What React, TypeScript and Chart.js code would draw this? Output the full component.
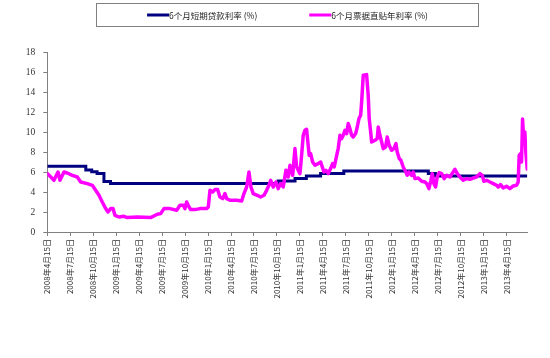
import React, { useEffect, useRef } from "react";
import { Chart, registerables } from "chart.js";

Chart.register(...registerables);

// x values are months since 2008-04-15
const tickMonths = [0, 3, 6, 9, 12, 15, 18, 21, 24, 27, 30, 33, 36, 39, 42, 45, 48, 51, 54, 57, 60];
const tickLabels = [
  "2008年4月15日", "2008年7月15日", "2008年10月15日",
  "2009年1月15日", "2009年4月15日", "2009年7月15日", "2009年10月15日",
  "2010年1月15日", "2010年4月15日", "2010年7月15日", "2010年10月15日",
  "2011年1月15日", "2011年4月15日", "2011年7月15日", "2011年10月15日",
  "2012年1月15日", "2012年4月15日", "2012年7月15日", "2012年10月15日",
  "2013年1月15日", "2013年4月15日",
];
const xMax = 62.7;

const seriesNames = ["6个月短期贷款利率 (%)", "6个月票据直贴年利率 (%)"];

const loanMonths = [0, 5.03, 5.8, 6.5, 7.4, 8.26, 30.16, 32.36, 33.84, 35.7, 38.73, 49.77, 50.7, 62.7];
const loanRates = [6.57, 6.21, 6.03, 5.85, 5.04, 4.86, 5.1, 5.35, 5.6, 5.85, 6.1, 5.85, 5.6, 5.6];

const billMonths = [
  0, 0.65, 0.87, 1.4, 1.66, 2.18, 2.61, 3.27, 3.92, 4.36, 5.22, 5.88, 6.32, 6.75, 7.18, 7.63, 7.93, 8.28, 8.58, 8.84,
  9.36, 10.02, 10.45, 11.75, 13.5, 14.37, 14.81, 15.24, 16.02, 16.9, 17.33, 17.76, 17.98, 18.2, 18.41, 18.73, 19.29,
  19.94, 20.82, 21.03, 21.25, 21.6, 21.9, 22.25, 22.55, 22.91, 23.21, 23.43, 23.86, 24.74, 25.39, 25.69, 26.04, 26.34,
  26.6, 26.9, 27.43, 27.87, 28.3, 28.65, 28.95, 29.18, 29.52, 29.87, 30.17, 30.48, 30.82, 31.17, 31.47, 31.7, 32.05,
  32.35, 32.57, 32.78, 33.0, 33.22, 33.43, 33.65, 33.87, 34.08, 34.21, 34.4, 34.66, 34.96, 35.39, 35.71, 35.92, 36.14,
  36.4, 36.7, 37.01, 37.27, 37.48, 37.8, 38.0, 38.23, 38.45, 38.66, 38.88, 39.1, 39.31, 39.53, 39.75, 39.96, 40.28,
  40.49, 40.71, 40.93, 41.06, 41.27, 41.71, 41.92, 42.05, 42.24, 42.37, 42.8, 43.1, 43.23, 43.45, 43.67, 43.88, 44.19,
  44.4, 44.66, 44.97, 45.28, 45.54, 45.71, 45.97, 46.19, 46.49, 46.72, 47.02, 47.24, 47.59, 47.8, 48.02, 48.45, 48.9,
  49.33, 49.55, 49.85, 50.11, 50.28, 50.5, 50.72, 50.93, 51.19, 51.51, 51.85, 52.16, 52.59, 52.89, 53.25, 53.55, 53.9,
  54.33, 54.77, 55.2, 55.64, 56.08, 56.51, 56.81, 57.03, 57.39, 57.82, 58.25, 58.69, 58.9, 59.21, 59.55, 59.99, 60.42,
  60.86, 61.3, 61.51, 61.64, 61.82, 61.95, 62.08, 62.25, 62.38, 62.51, 62.69,
];
const billRates = [
  5.84, 5.34, 5.17, 6.0, 5.17, 6.0, 5.9, 5.67, 5.5, 5.0, 4.84, 4.67, 4.17, 3.67, 3.0, 2.34, 2.0, 2.34, 2.34, 1.67,
  1.5, 1.57, 1.44, 1.5, 1.44, 1.77, 1.84, 2.34, 2.34, 2.17, 2.67, 2.67, 2.34, 3.0, 2.67, 2.24, 2.24,
  2.34, 2.34, 2.5, 4.17, 4.0, 4.24, 4.24, 3.5, 3.34, 3.84, 3.34, 3.17, 3.17, 3.1, 3.84, 4.5, 6.0,
  4.5, 3.84, 3.67, 3.5, 3.67, 4.17, 4.67, 5.17, 4.5, 5.0, 4.34, 4.84, 4.5, 6.17, 5.5, 6.67, 5.67,
  8.34, 6.5, 6.17, 5.84, 7.67, 9.67, 10.17, 10.27, 8.67, 7.67, 7.84, 7.0, 6.67, 6.84, 7.0, 6.5, 6.0,
  6.17, 5.84, 6.34, 6.84, 6.5, 7.67, 8.34, 9.67, 9.34, 9.67, 10.17, 9.84, 10.84, 10.34, 9.67, 9.5, 9.84,
  10.5, 11.34, 11.67, 13.0, 15.67, 15.74, 13.67, 11.34, 10.0, 9.0, 9.17, 9.34, 10.5, 9.67, 9.0, 8.34, 8.5,
  9.5, 8.67, 8.17, 8.34, 8.84, 8.0, 7.34, 7.17, 6.5, 6.17, 5.67, 6.0, 5.67, 6.0, 5.34, 5.4, 5.07,
  5.0, 4.84, 4.34, 5.17, 5.84, 4.84, 4.5, 5.5, 5.94, 5.84, 5.34, 5.67, 5.5, 5.84, 6.27, 5.84, 5.5,
  5.17, 5.34, 5.27, 5.4, 5.5, 5.84, 5.67, 5.07, 5.17, 5.0, 4.84, 4.67, 4.5, 4.74, 4.4, 4.57, 4.34,
  4.6, 4.67, 5.0, 7.67, 7.84, 7.0, 11.3, 9.0, 10.0, 8.0, 6.3,
];

const loanColor = "#000080";
const billColor = "#FF00FF";

const legendPlugin = {
  id: "excelLegend",
  afterDraw(chart: any) {
    const ctx = chart.ctx;
    const box = { x: 96.5, y: 3.5, w: 382, h: 23 };
    ctx.save();
    ctx.strokeStyle = "#808080";
    ctx.lineWidth = 1;
    ctx.strokeRect(box.x, box.y, box.w, box.h);
    ctx.font = '8.5px "Noto Sans CJK SC"';
    ctx.textBaseline = "middle";
    const sample = 22;
    const gap = 52;
    const colors = [loanColor, billColor];
    const widths = seriesNames.map((n) => sample + ctx.measureText(n).width);
    const total = widths[0] + widths[1] + gap;
    let x = box.x + (box.w - total) / 2;
    const cy = box.y + box.h / 2;
    seriesNames.forEach((name, i) => {
      ctx.strokeStyle = colors[i];
      ctx.lineWidth = 3;
      ctx.beginPath();
      ctx.moveTo(x, cy);
      ctx.lineTo(x + sample, cy);
      ctx.stroke();
      ctx.fillStyle = "#222";
      ctx.fillText(name, x + sample, cy + 0.5);
      x += widths[i] + gap;
    });
    ctx.restore();
  },
};

export default function App() {
  const ref = useRef<HTMLCanvasElement | null>(null);
  useEffect(() => {
    if (!ref.current) return;
    const chart = new Chart(ref.current, {
      type: "line",
      data: {
        datasets: [
          {
            label: seriesNames[1],
            data: billMonths.map((m, i) => ({ x: m, y: billRates[i] })),
            borderColor: billColor,
            backgroundColor: billColor,
            borderWidth: 3.5,
            pointRadius: 0,
            tension: 0,
            borderJoinStyle: "round",
            borderCapStyle: "round",
            order: 0,
          },
          {
            label: seriesNames[0],
            data: loanMonths.map((m, i) => ({ x: m, y: loanRates[i] })),
            borderColor: loanColor,
            backgroundColor: loanColor,
            borderWidth: 3,
            pointRadius: 0,
            stepped: true,
            order: 1,
          },
        ],
      },
      options: {
        responsive: false,
        maintainAspectRatio: false,
        animation: false,
        layout: { padding: { top: 52, right: 22.7, bottom: 46, left: 0 } },
        plugins: { legend: { display: false }, tooltip: { enabled: false } },
        scales: {
          x: {
            type: "linear",
            min: 0,
            max: xMax,
            afterBuildTicks: (scale: any) => {
              scale.ticks = tickMonths.map((v) => ({ value: v }));
            },
            afterFit: (scale: any) => {
              scale.height = 80;
            },
            ticks: {
              autoSkip: false,
              minRotation: 90,
              maxRotation: 90,
              padding: 3,
              color: "#333",
              font: { family: '"Noto Sans CJK SC"', size: 8 },
              callback: (_v: any, i: number) => tickLabels[i],
            },
            grid: { drawOnChartArea: false, drawTicks: true, tickLength: 4, color: "#808080" },
            border: { color: "#808080", width: 1 },
          },
          y: {
            min: 0,
            max: 18,
            afterFit: (scale: any) => {
              scale.width = 47.3;
            },
            ticks: {
              stepSize: 2,
              padding: 8,
              color: "#333",
              font: { family: '"Liberation Serif"', size: 9.5 },
            },
            grid: { drawOnChartArea: false, drawTicks: true, tickLength: 4, color: "#808080" },
            border: { color: "#808080", width: 1 },
          },
        },
      },
      plugins: [legendPlugin],
    } as any);
    return () => chart.destroy();
  }, []);
  return (
    <div style={{ position: "absolute", left: 0, top: 0, width: 550, height: 358, background: "#fff" }}>
      <canvas ref={ref} width={550} height={358} style={{ width: 550, height: 358, display: "block" }} />
    </div>
  );
}
